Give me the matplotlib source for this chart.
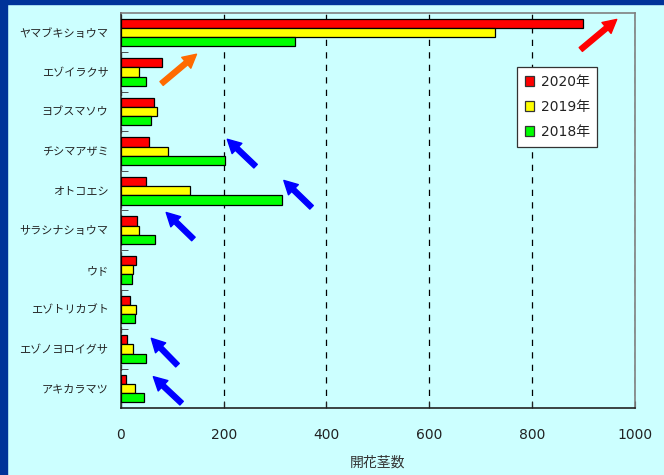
import numpy as np
import matplotlib.pyplot as plt
from matplotlib.patches import Rectangle

plt.rcParams['font.family'] = ['Noto Sans CJK JP', 'DejaVu Sans']

# --- Data: flowering stems per species ---
species = ["ヤマブキショウマ", "エゾイラクサ", "ヨブスマソウ", "チシマアザミ", "オトコエシ",
           "サラシナショウマ", "ウド", "エゾトリカブト", "エゾノヨロイグサ", "アキカラマツ"]
y2020 = [900, 79, 64, 54, 48, 31, 29, 17, 11, 9]
y2019 = [729, 36, 71, 91, 134, 36, 23, 30, 23, 28]
y2018 = [338, 48, 58, 202, 313, 66, 21, 27, 49, 44]
years = ["2020年", "2019年", "2018年"]
colors = ["#ff0000", "#ffff00", "#00ff00"]

# arrows: (x_tail, y_tail, x_head, y_head, color) in data units
arrows = [
    (895, 0.43, 965, -0.33, "#ff0000"),
    (79, 1.29, 147, 0.55, "#ff6a00"),
    (262, 3.38, 207, 2.70, "#0000ff"),
    (371, 4.42, 317, 3.74, "#0000ff"),
    (141, 5.22, 88, 4.55, "#0000ff"),
    (110, 8.41, 59, 7.73, "#0000ff"),
    (118, 9.37, 63, 8.70, "#0000ff"),
]

bg = "#ccffff"
fig = plt.figure(figsize=(6.64, 4.75), dpi=100, facecolor=bg)
# dark blue frame on the left and top edges
fig.patches.append(Rectangle((0, 0), 7 / 664, 1, transform=fig.transFigure, color="#003399", zorder=0))
fig.patches.append(Rectangle((0, 1 - 4 / 475), 1, 4 / 475, transform=fig.transFigure, color="#003399", zorder=0))

ax = fig.add_axes([0.1822, 0.1404, 0.9559 - 0.1822, 0.9733 - 0.1404])
ax.set_facecolor(bg)

y = np.arange(len(species))
h = 0.233
for k, (vals, lab, col) in enumerate(zip([y2020, y2019, y2018], years, colors)):
    ax.barh(y + (k - 1) * h, vals, height=h, color=col, edgecolor="black", linewidth=0.9,
            label=lab, zorder=3)

ax.set_xlim(0, 1000)
ax.set_ylim(len(species) - 0.5, -0.5)
ax.set_xticks([0, 200, 400, 600, 800, 1000])
ax.set_yticks(y)
ax.set_yticklabels(species, fontsize=8, color="#222222")
ax.tick_params(axis="y", which="major", length=0, pad=9)
ax.set_yticks(np.arange(0.5, len(species) - 0.5, 1), minor=True)
ax.tick_params(axis="y", which="minor", direction="in", length=5, color="#333333")
ax.tick_params(axis="x", direction="in", length=5, pad=14, labelsize=10, color="#222222",
               labelcolor="#222222")
for t in ax.get_xticklabels():
    t.set_family("DejaVu Sans")

ax.xaxis.grid(True, linestyle=(0, (5, 5)), color="black", linewidth=0.9, zorder=1)
ax.set_axisbelow(True)
ax.spines["top"].set_color("#808080")
ax.spines["right"].set_color("#808080")
ax.spines["left"].set_color("#333333")
ax.spines["bottom"].set_color("#222222")
for s in ax.spines.values():
    s.set_linewidth(1.2)

ax.set_xlabel("開花茎数", fontsize=10, color="#333333", labelpad=10)

leg = ax.legend(loc="upper left", bbox_to_anchor=(0.771, 0.862), fontsize=10,
                frameon=True, fancybox=False, edgecolor="#333333", facecolor="white",
                framealpha=1, handlelength=0.7, handleheight=0.7, handletextpad=0.45,
                labelspacing=0.8, borderpad=0.55, borderaxespad=0)
leg.get_frame().set_linewidth(0.9)
for p in leg.get_patches():
    p.set_edgecolor("#333333")
for t in leg.get_texts():
    t.set_color("#222222")
    t.set_family(["DejaVu Sans", "Noto Sans CJK JP"])

for x0, y0, x1, y1, c in arrows:
    ax.annotate("", xy=(x1, y1), xytext=(x0, y0),
                arrowprops=dict(arrowstyle="simple,head_length=0.8,head_width=0.85,tail_width=0.3",
                                color=c, mutation_scale=12, shrinkA=0, shrinkB=0),
                zorder=5, annotation_clip=False)

fig.savefig("out.png", dpi=100, facecolor=bg)
